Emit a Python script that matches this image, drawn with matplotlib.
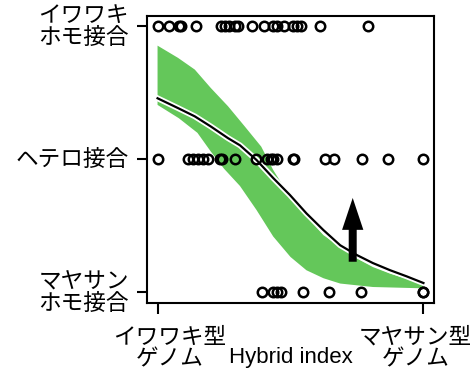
import matplotlib
matplotlib.use("Agg")
import matplotlib.pyplot as plt
import matplotlib.patheffects as pe

plt.rcParams['font.family'] = ['Liberation Sans', 'Noto Sans CJK JP', 'DejaVu Sans']

# Observed genotype class per individual (1 = Iwawaki homo, 0.5 = hetero, 0 = Mayasan homo)
homo_iwawaki_x = [0.0, 0.043, 0.08, 0.09, 0.146, 0.238, 0.253, 0.269, 0.293, 0.303,
                  0.357, 0.40, 0.435, 0.448, 0.475, 0.51, 0.523, 0.539, 0.61, 0.79]
hetero_x = [0.0, 0.115, 0.134, 0.152, 0.171, 0.19, 0.234, 0.244, 0.29, 0.372, 0.413,
            0.425, 0.435, 0.45, 0.508, 0.513, 0.63, 0.665, 0.769, 0.867, 1.0]
homo_mayasan_x = [0.391, 0.435, 0.45, 0.463, 0.548, 0.646, 0.765, 1.0, 1.0]

# Expected cline (black line) and its envelope (green band)
cline_x = [0.0, 0.077, 0.14, 0.2, 0.265, 0.31, 0.372, 0.435, 0.498, 0.56, 0.624,
           0.687, 0.75, 0.81, 0.875, 0.937, 1.0]
cline_y = [0.73, 0.693, 0.662, 0.624, 0.58, 0.553, 0.498, 0.43, 0.366, 0.297, 0.234,
           0.177, 0.14, 0.11, 0.083, 0.06, 0.035]

band_x = [0.0, 0.077, 0.14, 0.2, 0.265, 0.328, 0.39, 0.435, 0.498, 0.56, 0.624,
          0.687, 0.75, 0.81, 0.875, 1.0]
band_upper = [0.928, 0.882, 0.838, 0.769, 0.70, 0.624, 0.548, 0.46, 0.36, 0.285,
              0.215, 0.171, 0.127, 0.095, 0.07, 0.032]
band_lower_x = [0.0, 0.08, 0.15, 0.2, 0.25, 0.31, 0.372, 0.435, 0.5, 0.56, 0.624,
                0.687, 0.81, 1.0]
band_lower = [0.705, 0.655, 0.60, 0.53, 0.465, 0.40, 0.31, 0.21, 0.133, 0.083, 0.053,
              0.033, 0.02, 0.015]

y_levels = [0.0, 0.5, 1.0]
y_labels = ['マヤサン\nホモ接合', 'ヘテロ接合', 'イワワキ\nホモ接合']
x_labels = ['イワワキ型\nゲノム', 'マヤサン型\nゲノム']

# Arrow showing the shift of the cline
arrow_x, arrow_y0, arrow_y1 = 0.734, 0.115, 0.355

fig = plt.figure(figsize=(4.77, 3.69), dpi=100)
ax = fig.add_axes([0.308, 0.179, 0.602, 0.778])

green = '#64c75a'
poly_x = list(band_x) + list(band_lower_x[::-1])
poly_y = list(band_upper) + list(band_lower[::-1])
ax.fill(poly_x, poly_y, color=green, lw=0, zorder=1)

ax.plot(cline_x, cline_y, color='black', lw=1.6, zorder=3,
        path_effects=[pe.Stroke(linewidth=4.2, foreground='white'), pe.Normal()])

ax.arrow(arrow_x, arrow_y0, 0, arrow_y1 - arrow_y0, width=0.03, head_width=0.08,
         head_length=0.12, length_includes_head=True, color='black', lw=0, zorder=4)

mk = dict(marker='o', ls='none', ms=6.8, mfc='none', mec='black', mew=1.8, zorder=5)
ax.plot(homo_iwawaki_x, [1.0] * len(homo_iwawaki_x), **mk)
ax.plot(hetero_x, [0.5] * len(hetero_x), **mk)
ax.plot(homo_mayasan_x, [0.0] * len(homo_mayasan_x), **mk)

ax.set_xlim(-0.04, 1.04)
ax.set_ylim(-0.04, 1.04)

for s in ax.spines.values():
    s.set_linewidth(1.5)

fs = 16.3
ax.set_yticks(y_levels)
ax.set_yticklabels(y_labels, fontsize=fs, linespacing=0.92, ha='right', va='center')
ax.tick_params(axis='y', length=7, width=1.5, pad=6)

ax.set_xticks([0.0, 1.0])
ax.set_xticklabels(['', ''])
ax.tick_params(axis='x', length=8, width=1.5)

trans = ax.get_xaxis_transform()
ax.text(0.045, -0.08, x_labels[0], transform=trans, ha='center', va='top',
        fontsize=fs, linespacing=0.92)
ax.text(0.97, -0.08, x_labels[1], transform=trans, ha='center', va='top',
        fontsize=fs, linespacing=0.92)
ax.text(0.5, -0.152, 'Hybrid index', transform=trans, ha='center', va='top',
        fontsize=16)

fig.savefig('out.png', dpi=100)
